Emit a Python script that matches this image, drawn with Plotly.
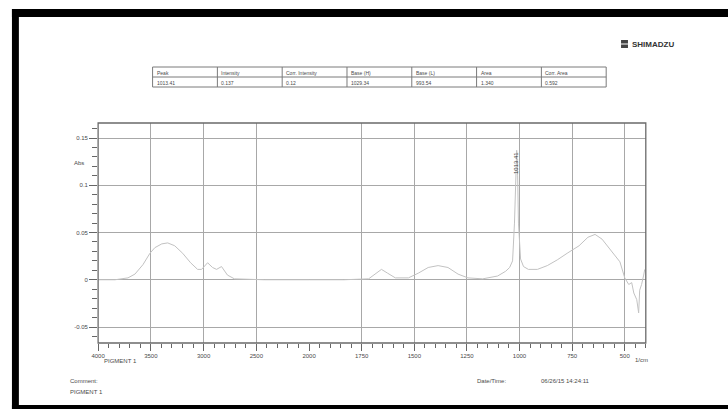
import numpy as np
import plotly.graph_objects as go

# ---- FTIR spectrum of PIGMENT 1 (absorbance vs wavenumber) ----
WAVENUMBER = [4000, 3840, 3717, 3651, 3575, 3509, 3462, 3396, 3340, 3274,
              3198, 3123, 3057, 3019, 2962, 2915, 2877, 2830, 2774, 2708,
              2425, 2000, 1835, 1717, 1684, 1656, 1627, 1590, 1528, 1481,
              1434, 1387, 1340, 1292, 1245, 1175, 1104, 1066, 1047, 1033,
              1024, 1018, 1013.41, 1009, 1005, 995, 981, 958, 915, 868,
              821, 774, 717, 675, 641, 608, 561, 523, 500, 481,
              467, 457, 443, 434, 429, 420, 410, 405]
ABSORBANCE = [0.000, 0.000, 0.002, 0.006, 0.016, 0.028, 0.034, 0.038, 0.039, 0.036,
              0.028, 0.018, 0.011, 0.011, 0.018, 0.013, 0.011, 0.014, 0.005, 0.001,
              0.000, 0.000, 0.000, 0.001, 0.006, 0.011, 0.007, 0.002, 0.002, 0.007,
              0.013, 0.015, 0.013, 0.006, 0.002, 0.001, 0.004, 0.009, 0.013, 0.020,
              0.060, 0.110, 0.137, 0.110, 0.060, 0.022, 0.014, 0.011, 0.011, 0.015,
              0.021, 0.028, 0.036, 0.045, 0.048, 0.043, 0.030, 0.019, 0.002, -0.005,
              -0.003, -0.014, -0.021, -0.035, -0.011, -0.005, 0.005, 0.011]

PEAK_WN = 1013.41
PEAK_ABS = 0.137

X_TICKS_HIGH = [4000, 3500, 3000, 2500]
X_TICKS_LOW = [2000, 1750, 1500, 1250, 1000, 750, 500]
Y_TICKS = [-0.05, 0, 0.05, 0.1, 0.15]
Y_TICK_TEXT = ["-0.05", "0", "0.05", "0.1", "0.15"]

TABLE_HEADERS = ["Peak", "Intensity", "Corr. Intensity", "Base (H)", "Base (L)", "Area", "Corr. Area"]
TABLE_ROW = [f"{PEAK_WN:.2f}", f"{PEAK_ABS:.3f}", "0.12", "1029.34", "993.54", "1.340", "0.592"]

W, H = 728, 409
FONT = "Liberation Sans, Arial, sans-serif"
TXT = "#4a4a4a"


def px(x):
    return x / W


def py(y):
    return 1 - y / H


wn = np.array(WAVENUMBER)
ab = np.array(ABSORBANCE)
hi = wn >= 2000
lo = wn <= 2000

line_style = dict(color="#c2c2c2", width=1)

fig = go.Figure()
fig.add_trace(go.Scatter(x=wn[hi], y=ab[hi], xaxis="x", yaxis="y", mode="lines",
                         line=line_style, showlegend=False, hoverinfo="skip"))
fig.add_trace(go.Scatter(x=wn[lo], y=ab[lo], xaxis="x2", yaxis="y", mode="lines",
                         line=line_style, showlegend=False, hoverinfo="skip"))

grid = "#a8a8a8"
tickfont = dict(family=FONT, size=6, color=TXT)

common_x = dict(anchor="y", ticks="outside", ticklen=7, tickcolor="#666",
                showgrid=True, gridcolor=grid, gridwidth=1, zeroline=False,
                showline=False, tickfont=tickfont, tickmode="array")

fig.update_layout(
    width=W, height=H,
    margin=dict(l=0, r=0, t=0, b=0),
    paper_bgcolor="white", plot_bgcolor="white",
    font=dict(family=FONT, size=6, color=TXT),
    xaxis=dict(domain=[px(92), px(305)], range=[4000, 2000],
               tickvals=X_TICKS_HIGH,
               minor=dict(ticks="outside", dtick=100, tick0=4000, ticklen=4,
                          tickcolor="#666", showgrid=False),
               **common_x),
    xaxis2=dict(domain=[px(305), px(645)], range=[2000, 400],
                tickvals=X_TICKS_LOW,
                minor=dict(ticks="outside", dtick=50, tick0=2000, ticklen=4,
                           tickcolor="#666", showgrid=False),
                **common_x),
    yaxis=dict(domain=[py(343), py(123)], range=[-0.0669, 0.1659], anchor="x",
               tickmode="array", tickvals=Y_TICKS, ticktext=Y_TICK_TEXT,
               ticks="outside", ticklen=8, tickcolor="#666",
               minor=dict(ticks="outside", dtick=0.01, tick0=0, ticklen=5,
                          tickcolor="#666", showgrid=False),
               showgrid=True, gridcolor=grid, gridwidth=1, zeroline=False,
               showline=False, tickfont=tickfont),
)

shapes = [
    # plot frame
    dict(type="rect", xref="paper", yref="paper", x0=px(92), x1=px(645),
         y0=py(343), y1=py(123), line=dict(color="#6a6a6a", width=1.3)),
    # page border
    dict(type="rect", xref="paper", yref="paper", x0=px(5), x1=1.02,
         y0=py(17), y1=py(9), fillcolor="black", line=dict(width=0)),
    dict(type="rect", xref="paper", yref="paper", x0=px(5), x1=px(12),
         y0=-0.02, y1=py(9), fillcolor="black", line=dict(width=0)),
    dict(type="rect", xref="paper", yref="paper", x0=px(5), x1=1.02,
         y0=-0.02, y1=py(405), fillcolor="black", line=dict(width=0)),
    # logo mark
    dict(type="rect", xref="paper", yref="paper", x0=px(620), x1=px(627),
         y0=py(48), y1=py(40), fillcolor="#444", line=dict(width=0)),
    dict(type="line", xref="paper", yref="paper", x0=px(620), x1=px(627),
         y0=py(44), y1=py(44), line=dict(color="white", width=1)),
]


def note(text, x, y, xanchor="left", size=6, color=TXT, **kw):
    return dict(text=text, xref="paper", yref="paper", x=px(x), y=py(y),
                xanchor=xanchor, yanchor="middle", showarrow=False,
                font=dict(family=FONT, size=size, color=color), **kw)


annotations = [
    note("Abs", 80, 163, xanchor="right"),
    note("PIGMENT 1", 96, 361),
    note("1/cm", 641, 360, xanchor="center"),
    note("Comment:", 62, 381),
    note("PIGMENT 1", 62, 392),
    note("Date/Time:", 473, 381),
    note("06/26/15 14:24:11", 537, 381),
    note("<b>SHIMADZU</b>", 629, 44, size=8, color="#333"),
    dict(text=TABLE_ROW[0], x=PEAK_WN, y=PEAK_ABS, xref="x2", yref="y",
         textangle=-90, xanchor="center", yanchor="top", showarrow=False,
         font=dict(family=FONT, size=6, color="#444")),
]

# peak table: grid of cells with header row and one value row
T_LEFT, T_RIGHT, T_TOP, T_MID, T_BOTTOM = 147, 605, 67, 77, 87
col_w = (T_RIGHT - T_LEFT) / len(TABLE_HEADERS)
tline = dict(color="#7a7a7a", width=1)
shapes.append(dict(type="rect", xref="paper", yref="paper", x0=px(T_LEFT), x1=px(T_RIGHT),
                   y0=py(T_BOTTOM), y1=py(T_TOP), line=tline))
shapes.append(dict(type="line", xref="paper", yref="paper", x0=px(T_LEFT), x1=px(T_RIGHT),
                   y0=py(T_MID), y1=py(T_MID), line=tline))
for i, (head, val) in enumerate(zip(TABLE_HEADERS, TABLE_ROW)):
    x0 = T_LEFT + i * col_w
    if i > 0:
        shapes.append(dict(type="line", xref="paper", yref="paper", x0=px(x0), x1=px(x0),
                           y0=py(T_BOTTOM), y1=py(T_TOP), line=tline))
    annotations.append(note(head, x0 + 2, (T_TOP + T_MID) / 2 + 0.5, size=5))
    annotations.append(note(val, x0 + 2, (T_MID + T_BOTTOM) / 2 + 0.5, size=5))

fig.update_layout(shapes=shapes, annotations=annotations)
fig.write_html("out.html")
